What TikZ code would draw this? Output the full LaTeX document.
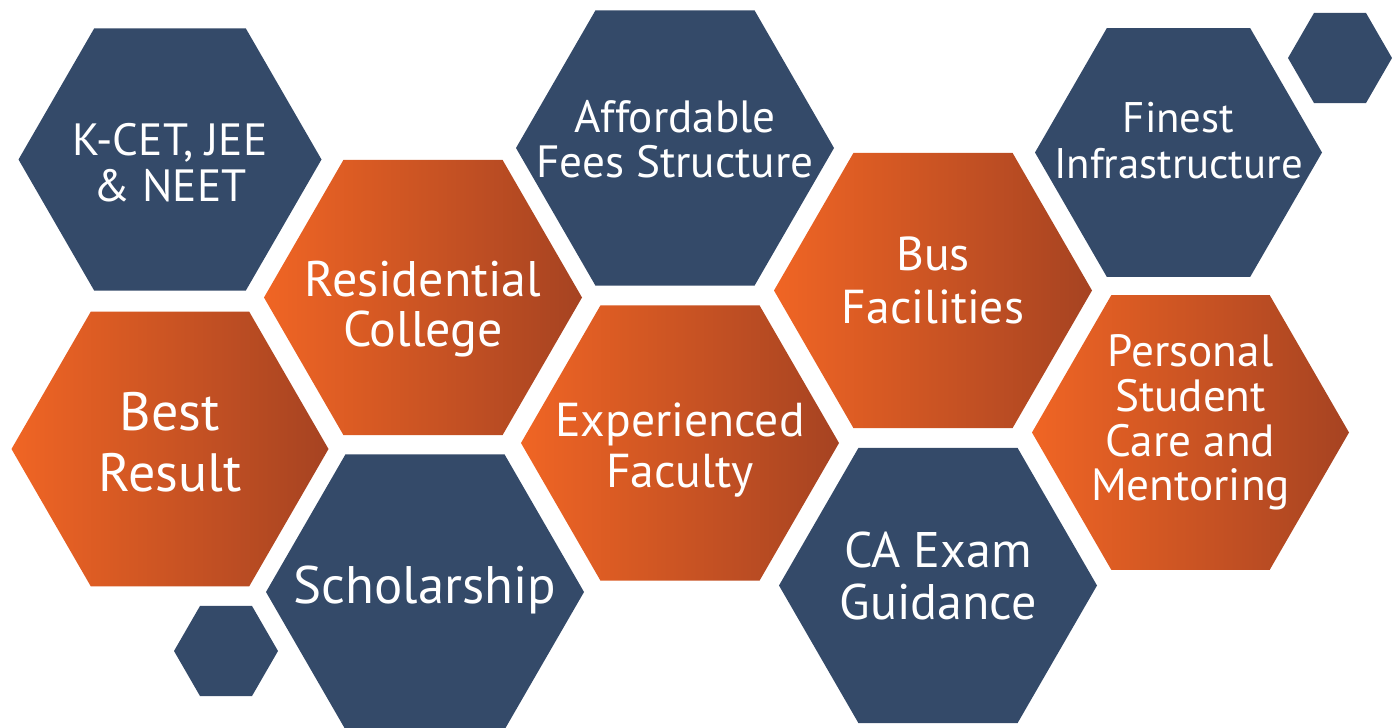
\documentclass[tikz,border=0pt]{standalone}
\usepackage{fontspec}
\setmainfont{PT Sans}
\usetikzlibrary{shapes.geometric,calc}
\definecolor{navy}{RGB}{52,74,105}
\definecolor{orangeL}{RGB}{240,101,36}
\definecolor{orangeR}{RGB}{166,67,34}
\tikzset{hex/.style = {regular polygon, regular polygon sides=6, inner sep=0pt, outer sep=0pt, minimum size=#1}}
\tikzset{navyhex/.style = {hex=#1, fill=navy}}
\tikzset{orangehex/.style = {hex=#1, left color=orangeL, right color=orangeR}}

\begin{document}
\begin{tikzpicture}[x=0.5pt,y=-0.5pt,
    caption/.style args={#1/#2}{text=white, align=center, inner sep=0pt,
        font={\fontsize{#1}{#2}\selectfont}},
    ]
    % Page frame
    \useasboundingbox (0,0) rectangle (1392,728);

    % Navy hexagons
    \node[navyhex=151.5pt] (kcet) at (170,159.5) {};
    \node[navyhex=159pt] (afford) at (675,148) {};
    \node[navyhex=143.5pt] (finest) at (1178.5,152.5) {};
    \node[navyhex=159pt] (schol) at (425,592) {};
    \node[navyhex=159pt] (caexam) at (938,585.5) {};
    \node[navyhex=52pt] (smallbl) at (226,651) {};
    \node[navyhex=52pt] (smalltr) at (1340,58) {};

    % Orange hexagons
    \node[orangehex=159pt] (resid) at (423,297.5) {};
    \node[orangehex=158.5pt] (best) at (170,449) {};
    \node[orangehex=159pt] (exper) at (680,443) {};
    \node[orangehex=159pt] (bus) at (933,290.5) {};
    \node[orangehex=158.5pt] (personal) at (1190.5,432.5) {};

    % Captions
    \node[caption=22.6pt/23pt] (t-kcet) at ($(kcet)+(0,3)$) {K-CET, JEE\\\& NEET};
    \node[caption=22.6pt/22.5pt] (t-afford) at ($(afford)+(0,-9)$) {Affordable\\Fees Structure};
    \node[caption=21.4pt/23.3pt] (t-finest) at ($(finest)+(0,-12)$) {Finest\\Infrastructure};
    \node[caption=25pt/25pt] (t-resid) at ($(resid)+(0,12)$) {Residential\\College};
    \node[caption=27pt/30.5pt] (t-best) at ($(best)+(0,-7)$) {Best\\Result};
    \node[caption=26.4pt/30pt] (t-schol) at ($(schol)+(0,-2)$) {Scholarship};
    \node[caption=23.8pt/25.5pt] (t-exper) at ($(exper)+(0,7)$) {Experienced\\Faculty};
    \node[caption=23.8pt/26.3pt] (t-bus) at ($(bus)+(0,-10)$) {Bus\\Facilities};
    \node[caption=25pt/26pt] (t-caexam) at ($(caexam)+(0,-10)$) {CA Exam\\Guidance};
    \node[caption=22.6pt/22.4pt] (t-personal) at ($(personal)+(0,-10)$) {Personal\\Student\\Care and\\Mentoring};
\end{tikzpicture}
\end{document}
